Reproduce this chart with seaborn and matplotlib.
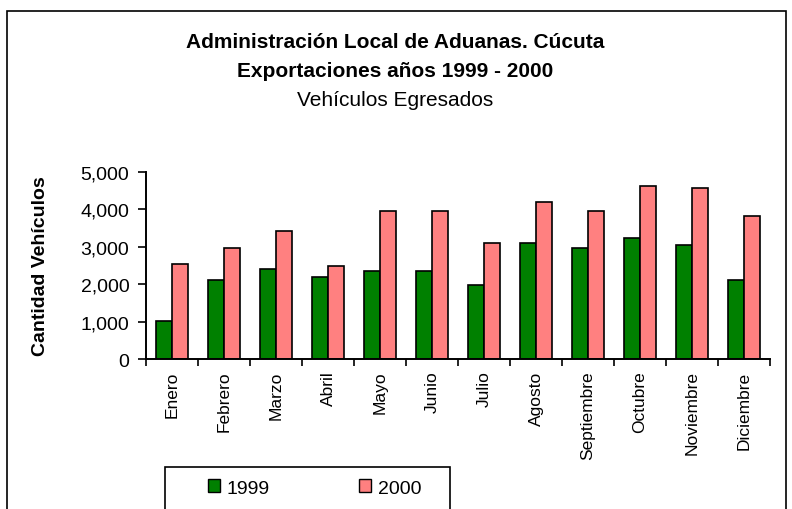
import matplotlib
matplotlib.use("Agg")
import matplotlib.pyplot as plt
import matplotlib.ticker as mticker
from matplotlib.patches import Rectangle
import numpy as np
import pandas as pd
import seaborn as sns

# Datos
meses = ["Enero", "Febrero", "Marzo", "Abril", "Mayo", "Junio", "Julio",
         "Agosto", "Septiembre", "Octubre", "Noviembre", "Diciembre"]
vehiculos_1999 = [1010, 2120, 2400, 2190, 2345, 2345, 1970, 3090, 2975, 3240, 3035, 2120]
vehiculos_2000 = [2550, 2975, 3410, 2495, 3945, 3945, 3090, 4200, 3945, 4625, 4575, 3820]
anios = ["1999", "2000"]
colores = {"1999": "#008000", "2000": "#FF8080"}

df = pd.DataFrame({
    "Mes": meses * 2,
    "Año": [anios[0]] * len(meses) + [anios[1]] * len(meses),
    "Cantidad": vehiculos_1999 + vehiculos_2000,
})

sns.set_style("white")
plt.rcParams["font.family"] = ["Liberation Sans", "DejaVu Sans"]
plt.rcParams.update({"text.color": "black", "axes.labelcolor": "black",
                     "xtick.color": "black", "ytick.color": "black"})

fig = plt.figure(figsize=(7.92, 5.10), dpi=100)
ax = fig.add_axes([0.1843, 0.2935, 0.7879, 0.3678])

sns.barplot(data=df, x="Mes", y="Cantidad", hue="Año", order=meses,
            hue_order=anios, palette=colores, width=0.63, gap=0,
            edgecolor="black", linewidth=1.2, saturation=1, ax=ax, legend=False)

ax.set_ylim(0, 5000)
ax.set_xlim(-0.5, len(meses) - 0.5)
ax.yaxis.set_major_locator(mticker.MultipleLocator(1000))
ax.yaxis.set_major_formatter(mticker.FuncFormatter(lambda v, p: f"{int(v):,}"))
ax.tick_params(axis="y", labelsize=14, length=6, width=1.2, pad=6, left=True)
ax.set_xticks(np.arange(len(meses)))
ax.set_xticklabels(meses, rotation=90, fontsize=12.5)
ax.set_xticks(np.arange(len(meses) + 1) - 0.5, minor=True)
ax.tick_params(axis="x", which="major", length=0, pad=8)
ax.tick_params(axis="x", which="minor", length=5, width=1.2, bottom=True)
ax.set_xlabel("")
ax.set_ylabel("Cantidad Vehículos", fontsize=14, fontweight="bold")
ax.yaxis.set_label_coords((49 - 146) / 624, 0.5)
for s in ["top", "right"]:
    ax.spines[s].set_visible(False)
for s in ["left", "bottom"]:
    ax.spines[s].set_color("black")
    ax.spines[s].set_linewidth(1.4)

# Títulos
fig.text(0.4987, 1 - 43 / 510, "Administración Local de Aduanas. Cúcuta",
         ha="center", va="center", fontsize=15, fontweight="bold")
fig.text(0.4987, 1 - 72 / 510, "Exportaciones años 1999 - 2000",
         ha="center", va="center", fontsize=15, fontweight="bold")
fig.text(0.4987, 1 - 100 / 510, "Vehículos Egresados",
         ha="center", va="center", fontsize=15)

# Leyenda (marco dibujado aparte)
handles = [Rectangle((0, 0), 1, 1, facecolor=colores[a], edgecolor="black", linewidth=1)
           for a in anios]
leg = fig.legend(handles, anios, loc="center left",
                 bbox_to_anchor=(208 / 792, 1 - 489 / 510), ncol=2, fontsize=14,
                 frameon=False, handlelength=0.6, handleheight=0.6,
                 handletextpad=0.35, columnspacing=4.6, borderpad=0,
                 borderaxespad=0)
fig.patches.append(Rectangle((165 / 792, -0.05), 285 / 792, 0.05 + 1 - 468 / 510,
                             transform=fig.transFigure, fill=False,
                             edgecolor="black", linewidth=1.2))

# Marco exterior del gráfico
fig.patches.append(Rectangle((7 / 792, -0.05), 779 / 792, 1.05 - 12 / 510,
                             transform=fig.transFigure, fill=False,
                             edgecolor="black", linewidth=1.2))

fig.savefig("out.png", dpi=100)
